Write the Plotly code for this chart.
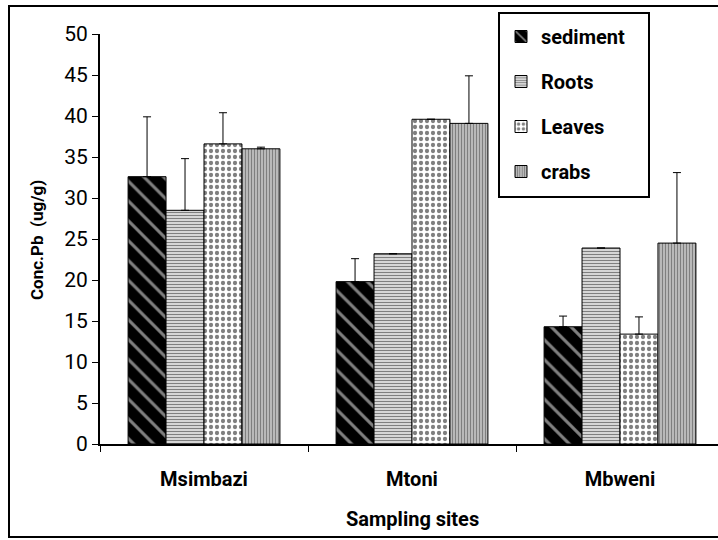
import plotly.graph_objects as go

sites = ["Msimbazi", "Mtoni", "Mbweni"]
series_names = ["sediment", "Roots", "Leaves", "crabs"]
sediment = [32.6, 19.8, 14.3]
roots = [28.5, 23.2, 23.9]
leaves = [36.6, 39.6, 13.4]
crabs = [36.0, 39.1, 24.5]
sediment_err = [7.3, 2.8, 1.3]
roots_err = [6.3, 0.0, 0.0]
leaves_err = [3.8, 0.0, 2.1]
crabs_err = [0.2, 5.8, 8.6]
y_ticks = [0, 5, 10, 15, 20, 25, 30, 35, 40, 45, 50]

values = [sediment, roots, leaves, crabs]
errors = [sediment_err, roots_err, leaves_err, crabs_err]
patterns = [
    dict(shape="\\", fgcolor="white", bgcolor="black", size=14, solidity=0.22),
    dict(shape="-", fgcolor="black", bgcolor="white", size=3, solidity=0.55),
    dict(shape=".", fgcolor="black", bgcolor="white", size=6, solidity=0.4),
    dict(shape="|", fgcolor="black", bgcolor="white", size=3, solidity=0.7),
]

FONT = "Roboto"
fig = go.Figure()
for i, name in enumerate(series_names):
    fig.add_trace(go.Bar(
        x=sites, y=values[i], name=name, legendgroup=name,
        marker=dict(color="white", pattern=patterns[i],
                    line=dict(color="black", width=1)),
        error_y=dict(type="data", array=errors[i],
                     arrayminus=[0] * len(errors[i]), symmetric=False,
                     color="black", thickness=1, width=4),
    ))

W, H = 718, 540
ml, mt, mb = 100, 34, 96
pw = W - ml
ph = H - mt - mb
cat_px = 208


def px_to_paper_x(px):
    return (px - ml) / pw


def px_to_paper_y(py):
    return (H - mb - py) / ph


fig.update_layout(
    width=W, height=H,
    margin=dict(l=ml, r=0, t=mt, b=mb, autoexpand=False),
    plot_bgcolor="white", paper_bgcolor="white",
    barmode="group", bargap=0.27, bargroupgap=0,
    font=dict(family=FONT, color="black"),
    showlegend=True,
    legend=dict(
        xref="container", yref="container",
        x=501 / W, y=1 - 17 / H,
        xanchor="left", yanchor="top",
        borderwidth=0, bgcolor="rgba(0,0,0,0)",
        font=dict(family=FONT, size=20, weight="bold"),
        traceorder="grouped", tracegroupgap=16,
        itemwidth=30,
    ),
    xaxis=dict(
        range=[-0.5, -0.5 + pw / cat_px], automargin=False,
        showline=True, linecolor="black", linewidth=2,
        ticks="outside", tickson="boundaries", ticklen=6, tickcolor="black",
        tickfont=dict(family=FONT, size=20, weight="bold"),
        ticklabelstandoff=16,
        showgrid=False, zeroline=False,
    ),
    yaxis=dict(
        range=[0, 50], tickvals=y_ticks, automargin=False,
        showline=True, linecolor="black", linewidth=2,
        ticks="outside", ticklen=6, tickcolor="black",
        tickfont=dict(family=FONT, size=21),
        showgrid=False, zeroline=False,
    ),
    annotations=[
        dict(text="Sampling sites", xref="paper", yref="paper",
             x=px_to_paper_x(412), y=px_to_paper_y(519),
             xanchor="center", yanchor="middle", showarrow=False,
             font=dict(family=FONT, size=20, weight="bold")),
        dict(text="Conc.Pb  (ug/g)", xref="paper", yref="paper",
             x=px_to_paper_x(37), y=px_to_paper_y(240), textangle=-90,
             xanchor="center", yanchor="middle", showarrow=False,
             font=dict(family=FONT, size=17, weight="bold")),
    ],
    shapes=[
        dict(type="rect", xref="paper", yref="paper",
             x0=px_to_paper_x(9), x1=px_to_paper_x(760),
             y0=px_to_paper_y(537), y1=px_to_paper_y(6),
             line=dict(color="black", width=2), fillcolor="rgba(0,0,0,0)",
             layer="below"),
        dict(type="rect", xref="paper", yref="paper",
             x0=px_to_paper_x(499), x1=px_to_paper_x(649),
             y0=px_to_paper_y(197), y1=px_to_paper_y(13),
             line=dict(color="black", width=2), fillcolor="white",
             layer="below"),
    ],
)

fig.write_html(
    "out.html",
    config={"displayModeBar": False},
    post_script="document.body.style.margin='0';document.body.style.overflow='hidden';",
)
